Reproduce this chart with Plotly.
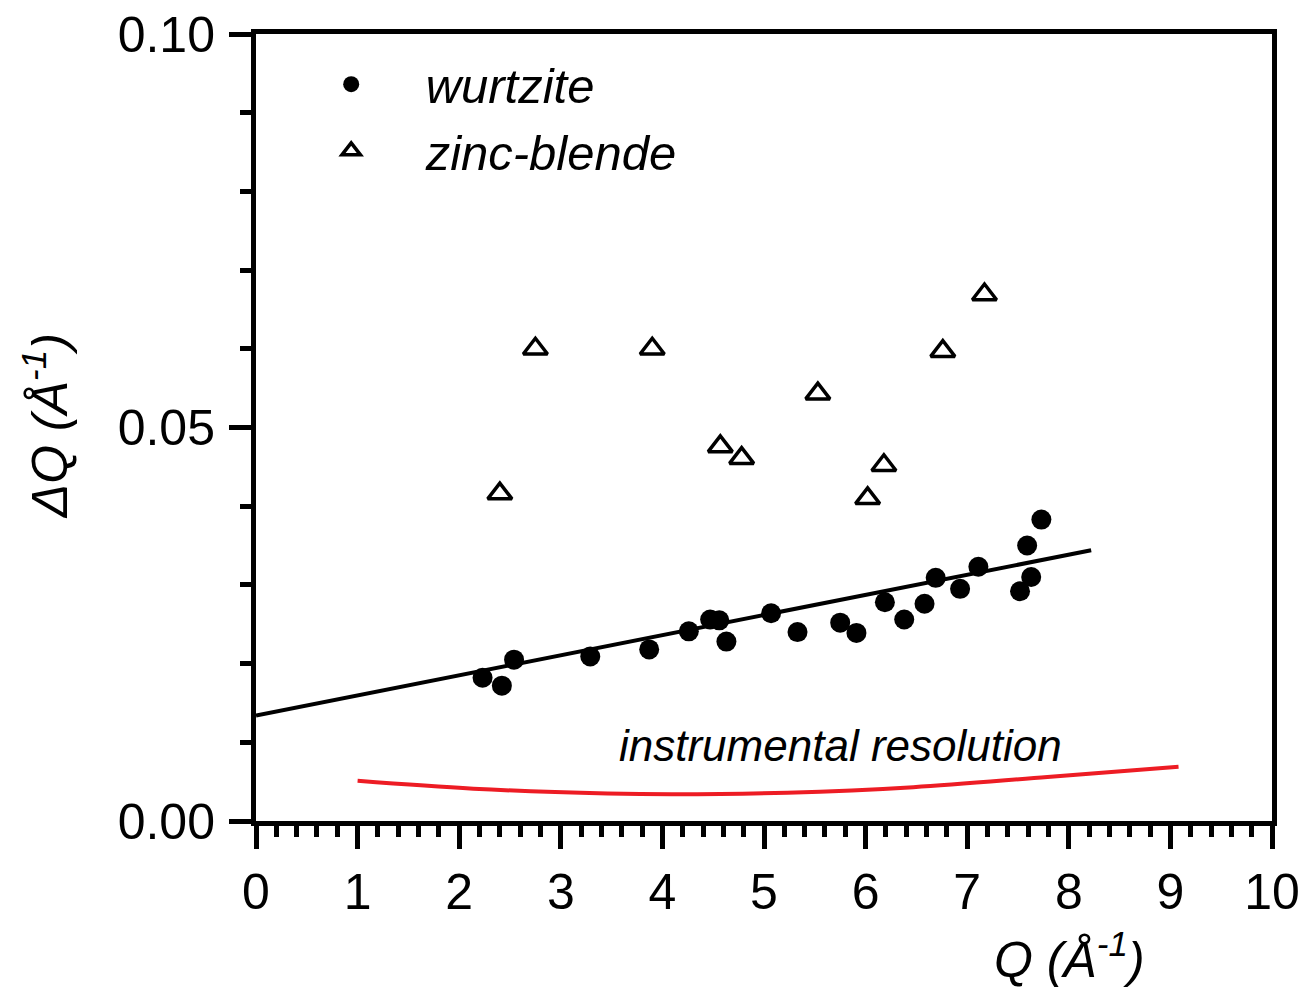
import plotly.graph_objects as go

# ---- data ----
wurtzite_q = [2.23, 2.42, 2.54, 3.29, 3.87, 4.26, 4.47, 4.56, 4.63, 5.07, 5.33, 5.75,
              5.91, 6.19, 6.38, 6.58, 6.69, 6.93, 7.11, 7.52, 7.59, 7.63, 7.73]
wurtzite_dq = [0.0182, 0.0172, 0.0205, 0.0209, 0.0218, 0.0241, 0.0256, 0.0255, 0.0228,
               0.0264, 0.0240, 0.0252, 0.0239, 0.0278, 0.0256, 0.0276, 0.0309, 0.0295,
               0.0323, 0.0292, 0.0350, 0.0310, 0.0383]

zincblende_q = [2.40, 2.75, 3.90, 4.57, 4.78, 5.53, 6.02, 6.18, 6.76, 7.17]
zincblende_dq = [0.0416, 0.0600, 0.0600, 0.0476, 0.0461, 0.0543, 0.0410, 0.0452, 0.0597, 0.0669]

fit_q = [0.0, 8.22]
fit_dq = [0.0134, 0.0344]

resolution_q = [1.0, 2.14, 3.46, 4.11, 5.23, 6.47, 7.79, 9.08]
resolution_dq = [0.0051, 0.0041, 0.0035, 0.0034, 0.0036, 0.0043, 0.0056, 0.0069]

x_ticks = list(range(0, 11))
y_ticks = [0.0, 0.05, 0.10]
y_ticklabels = ["0.00", "0.05", "0.10"]

FONT = "Arial, Liberation Sans, sans-serif"
NB = "\u00a0"

fig = go.Figure()

fig.add_trace(go.Scatter(
    x=fit_q, y=fit_dq, mode="lines",
    line=dict(color="black", width=4), showlegend=False, hoverinfo="skip"))

fig.add_trace(go.Scatter(
    x=resolution_q, y=resolution_dq, mode="lines",
    line=dict(color="#ED1C24", width=4, shape="spline"), showlegend=False))

fig.add_trace(go.Scatter(
    x=wurtzite_q, y=wurtzite_dq, mode="markers",
    name=NB * 4 + "<i>wurtzite</i>",
    marker=dict(symbol="circle", size=20, color="black")))

fig.add_trace(go.Scatter(
    x=zincblende_q, y=zincblende_dq, mode="markers",
    name=NB * 4 + "<i>zinc-blende</i>",
    marker=dict(symbol="triangle-up-open", size=21, color="black",
                line=dict(width=3.5, color="black"))))

# the page body has an 8 px margin, so the figure is shrunk by 8 px and
# the left/top margins reduced accordingly
fig.update_layout(
    width=1303, height=980,
    margin=dict(l=248, r=39, t=26, b=167, autoexpand=False),
    plot_bgcolor="white", paper_bgcolor="white",
    font=dict(family=FONT, size=50, color="black"),
    showlegend=True,
    legend=dict(x=0.074, y=0.985, xanchor="left", yanchor="top",
                bgcolor="rgba(0,0,0,0)", font=dict(size=49),
                itemsizing="trace", tracegroupgap=0),
)

fig.update_xaxes(
    range=[0, 10], tickvals=x_ticks, ticktext=[str(v) for v in x_ticks],
    showgrid=False, zeroline=False, automargin=False,
    showline=True, linecolor="black", linewidth=5, mirror=True,
    ticks="outside", ticklen=23, tickwidth=4.5, tickcolor="black",
    minor=dict(dtick=0.2, ticks="outside", ticklen=11, tickwidth=4.5, tickcolor="black", showgrid=False),
    tickfont=dict(size=50), ticklabelstandoff=0, ticklabeloverflow="allow",
)
fig.update_yaxes(
    range=[0, 0.10], tickvals=y_ticks, ticktext=y_ticklabels,
    showgrid=False, zeroline=False, automargin=False,
    showline=True, linecolor="black", linewidth=5, mirror=True,
    ticks="outside", ticklen=22, tickwidth=4.5, tickcolor="black",
    minor=dict(dtick=0.01, ticks="outside", ticklen=11, tickwidth=4.5, tickcolor="black", showgrid=False),
    tickfont=dict(size=50), ticklabelstandoff=4, ticklabeloverflow="allow",
)

fig.add_annotation(
    text="<i>instrumental resolution</i>", x=5.75, y=0.0096, xref="x", yref="y",
    showarrow=False, font=dict(size=44, family=FONT, color="black"),
    xanchor="center", yanchor="middle")

fig.add_annotation(
    text="<i>ΔQ (Å<sup>-1</sup>)</i>", x=-0.207, y=0.5025, xref="paper", yref="paper",
    showarrow=False, textangle=-90, font=dict(size=50, family=FONT, color="black"),
    xanchor="center", yanchor="middle")

fig.add_annotation(
    text="<i>Q (Å<sup>-1</sup>)</i>", x=0.801, y=-0.172, xref="paper", yref="paper",
    showarrow=False, font=dict(size=50, family=FONT, color="black"),
    xanchor="center", yanchor="middle")

fig.write_html("out.html")
